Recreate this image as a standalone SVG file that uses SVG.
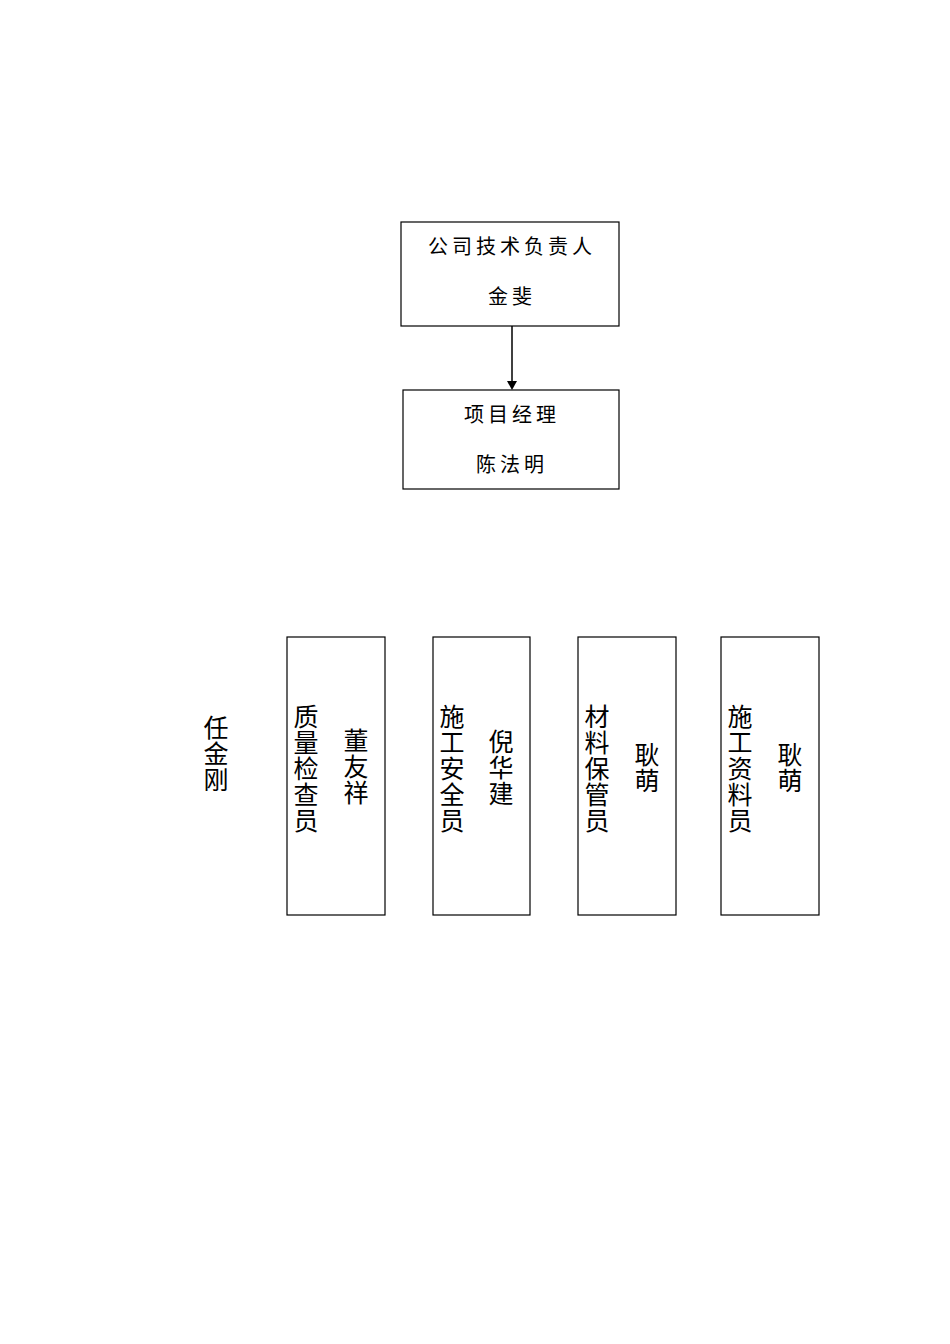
<svg xmlns="http://www.w3.org/2000/svg" width="950" height="1344" viewBox="0 0 950 1344">
<style>
.b{fill:#fff;stroke:#000;stroke-width:1.2}
.t{font-family:"Noto Sans CJK SC",sans-serif;font-size:20px;letter-spacing:4px;text-anchor:middle}
.v{font-family:"Noto Sans CJK SC",sans-serif;font-size:25px;text-anchor:middle}
</style>
<rect width="950" height="1344" fill="#fff"/>
<g id="connectors"><line x1="512" y1="326" x2="512" y2="382" stroke="#000" stroke-width="1.5"/><polygon points="507,381 517,381 512,390"/></g>
<g id="n1"><rect class="b" x="401" y="222" width="218" height="104"/><text class="t" x="512" y="254">公司技术负责人</text><text class="t" x="512" y="304">金斐</text></g>
<g id="n2"><rect class="b" x="403" y="390" width="216" height="99" stroke-width="2"/><text class="t" x="512" y="422">项目经理</text><text class="t" x="512" y="472">陈法明</text></g>
<g id="n0"><text class="v" x="216" y="737">任</text><text class="v" x="216" y="763">金</text><text class="v" x="216" y="789">刚</text></g>
<g id="n3"><rect class="b" x="287" y="637" width="98" height="278"/>
<text class="v" x="306" y="726">质</text><text class="v" x="306" y="752">量</text><text class="v" x="306" y="778">检</text><text class="v" x="306" y="804">查</text><text class="v" x="306" y="830">员</text>
<text class="v" x="356" y="750">董</text><text class="v" x="356" y="776">友</text><text class="v" x="356" y="802">祥</text></g>
<g id="n4"><rect class="b" x="433" y="637" width="97" height="278"/>
<text class="v" x="452" y="726">施</text><text class="v" x="452" y="752">工</text><text class="v" x="452" y="778">安</text><text class="v" x="452" y="804">全</text><text class="v" x="452" y="830">员</text>
<text class="v" x="501" y="751">倪</text><text class="v" x="501" y="777">华</text><text class="v" x="501" y="803">建</text></g>
<g id="n5"><rect class="b" x="578" y="637" width="98" height="278"/>
<text class="v" x="597" y="726">材</text><text class="v" x="597" y="752">料</text><text class="v" x="597" y="778">保</text><text class="v" x="597" y="804">管</text><text class="v" x="597" y="830">员</text>
<text class="v" x="647" y="764">耿</text><text class="v" x="647" y="790">萌</text></g>
<g id="n6"><rect class="b" x="721" y="637" width="98" height="278"/>
<text class="v" x="740" y="726">施</text><text class="v" x="740" y="752">工</text><text class="v" x="740" y="778">资</text><text class="v" x="740" y="804">料</text><text class="v" x="740" y="830">员</text>
<text class="v" x="790" y="764">耿</text><text class="v" x="790" y="790">萌</text></g>
</svg>
